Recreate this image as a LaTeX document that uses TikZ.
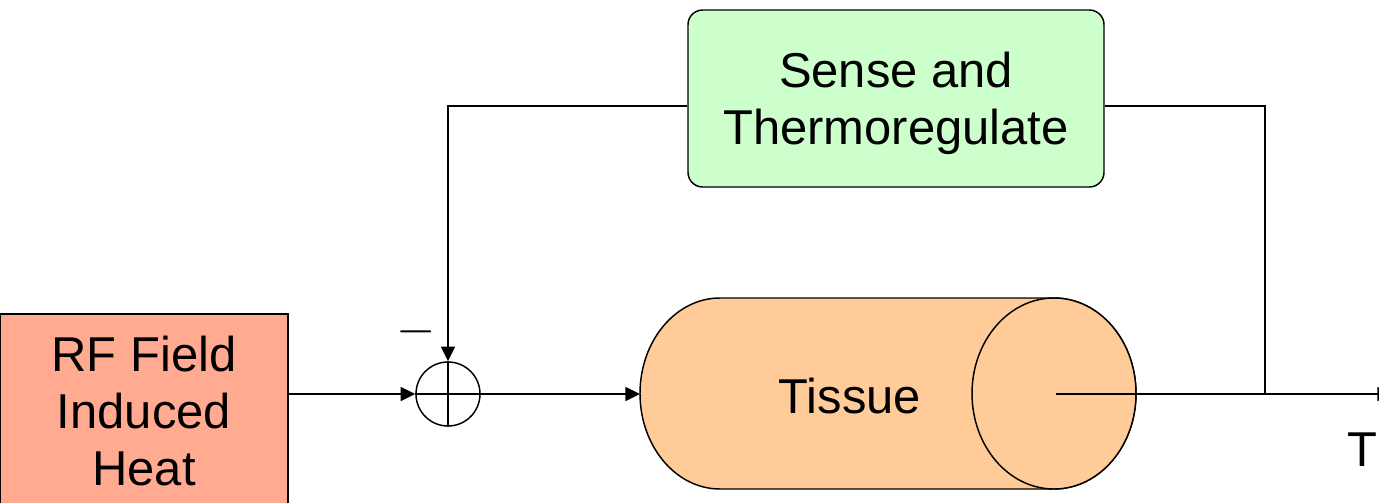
\RequirePackage{fix-cm}
\documentclass[tikz,border=0pt]{standalone}
\usepackage{fontspec}
\setmainfont{Liberation Sans}
\usetikzlibrary{arrows.meta}

\definecolor{heatfill}{RGB}{255,170,145}
\definecolor{tissuefill}{RGB}{255,204,153}
\definecolor{sensefill}{RGB}{204,255,204}

\tikzset{
  blocklabel/.style={font=\fontsize{36.7}{42.6}\selectfont, align=center, text depth=0pt, inner sep=0pt},
  wire/.style={line width=1.1pt},
  feed/.style={wire, -{Triangle[length=11pt,width=10.5pt]}},
}

\begin{document}
\begin{tikzpicture}[x=0.75pt,y=0.75pt,yscale=-1,xscale=1]
\useasboundingbox (0,0) rectangle (1379,503);

% Heat source
\draw (144,411) node [draw, wire, fill=heatfill, minimum width=216pt, minimum height=145.5pt, blocklabel] (heat) {RF Field\\Induced\\Heat};
% Sensor block
\draw (896,98.5) node [draw, wire, fill=sensefill, rounded corners=11pt, minimum width=312pt, minimum height=132.75pt, blocklabel] (sense) {Sense and\\Thermoregulate};
% Tissue body
\filldraw [wire, fill=tissuefill] (1054,298) -- (720,298) arc[start angle=270, end angle=90, x radius=80, y radius=95.5] -- (1054,489) arc[start angle=90, end angle=-90, x radius=82, y radius=95.5] -- cycle;
\draw [wire, fill=tissuefill] (1054,393.5) ellipse [x radius=82, y radius=95.5];
\coordinate (tissuein) at (640,394);
\coordinate (tissueend) at (1056,394);
% Text Node
\draw (850,396) node [blocklabel] (tissue) {Tissue};
% Summing point
\draw (448,394) node [circle, draw, wire, minimum size=48pt, inner sep=0pt] (sum) {};
\draw [wire] (sum.north) -- (sum.south);
\draw [wire] (sum.west) -- (sum.east);
% Text Node
\draw (416,344) node [anchor=base, inner sep=0pt, font=\fontsize{38}{40}\selectfont] (minus) {$-$};
% Text Node
\draw (1362,450) node [blocklabel] (temp) {T};
\coordinate (tap) at (1265,394);
\coordinate (tout) at (1392,394);
% Connection
\draw [feed] (heat.east |- sum.west) -- (sum.west);
% Connection
\draw [feed] (sum.east) -- (tissuein);
% Connection
\draw [feed] (tissueend) -- (tout);
% Connection
\draw [wire] (tap) |- ([yshift=5.6pt]sense.east);
% Connection
\draw [feed] ([yshift=5.6pt]sense.west) -| (sum.north);

\end{tikzpicture}
\end{document}
